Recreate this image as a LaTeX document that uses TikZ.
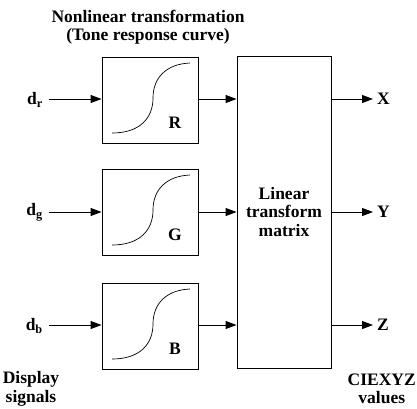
\documentclass[tikz,border=0pt]{standalone}
\usepackage{fontspec}
\setmainfont{Liberation Serif}
\usetikzlibrary{arrows.meta}
\tikzset{
  lbl/.style={font=\fontsize{17.5}{18.5}\selectfont\bfseries, inner sep=0pt, align=center},
  curvebox/.style={draw, line width=0.9pt, minimum width=96pt, minimum height=86pt, inner sep=0pt},
  bigbox/.style={draw, line width=0.9pt, minimum width=94pt, minimum height=312pt, inner sep=0pt},
  arr/.style={line width=0.9pt, -{Triangle[length=11pt,width=8pt]}},
  scurve/.style={line width=0.7pt}
}
\begin{document}
\begin{tikzpicture}[x=1pt,y=-1pt]
\useasboundingbox (0,0) rectangle (417,408);
% title
\node[lbl] (title) at (148,27) {Nonlinear transformation\\(Tone response curve)};
% boxes
\node[curvebox] (R) at (150,100) {};
\node[curvebox] (G) at (150,212) {};
\node[curvebox] (B) at (150,326) {};
\node[bigbox] (M) at (284,212) {};
\node[lbl] (Mt) at (284,212) {Linear\\transform\\matrix};
% curves and letters
\foreach \yc/\L in {100/R,212/G,326/B}{
  \draw[scurve] (112,\yc+33) .. controls (140,\yc+33) and (153,\yc+18) .. (153,\yc-2)
     .. controls (153,\yc-22) and (166,\yc-36) .. (190,\yc-37);
  \node[lbl] at (175,\yc+23) {\L};
}
% input labels and coordinates
\node[lbl,anchor=east] (dr) at (43,100) {d\textsubscript{r}};
\node[lbl,anchor=east] (dg) at (43,212) {d\textsubscript{g}};
\node[lbl,anchor=east] (db) at (43,326) {d\textsubscript{b}};
\coordinate (ir) at (49,99);
\coordinate (ig) at (49,212);
\coordinate (ib) at (49,325);
\draw[arr] (ir) -- (R.west |- ir);
\draw[arr] (ig) -- (G.west |- ig);
\draw[arr] (ib) -- (B.west |- ib);
\draw[arr] (R.east |- ir) -- (M.west |- ir);
\draw[arr] (G.east |- ig) -- (M.west |- ig);
\draw[arr] (B.east |- ib) -- (M.west |- ib);
% outputs
\node[lbl,anchor=west] (X) at (377,99) {X};
\node[lbl,anchor=west] (Y) at (377,212) {Y};
\node[lbl,anchor=west] (Z) at (377,325) {Z};
\draw[arr] (M.east |- X) -- ([xshift=-4pt]X.west);
\draw[arr] (M.east |- Y) -- ([xshift=-4pt]Y.west);
\draw[arr] (M.east |- Z) -- ([xshift=-4pt]Z.west);
% bottom labels
\node[lbl] (ds) at (31,389) {Display\\signals};
\node[lbl,anchor=east] (cv) at (416,389) {CIEXYZ\\values};
\end{tikzpicture}
\end{document}
